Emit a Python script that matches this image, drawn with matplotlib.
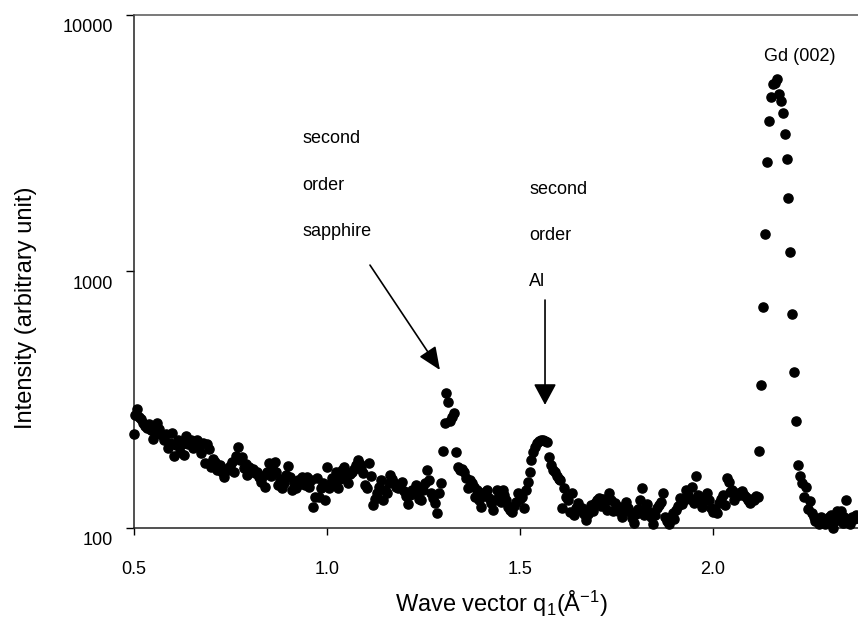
import numpy as np
import matplotlib
matplotlib.use("Agg")
import matplotlib.pyplot as plt
import matplotlib.transforms as mtransforms

plt.rcParams.update({
    "font.family": "Liberation Sans",
    "mathtext.fontset": "custom",
    "mathtext.rm": "Liberation Sans",
    "mathtext.it": "Liberation Sans:italic",
    "mathtext.bf": "Liberation Sans:bold",
})

# scan grid (wave vector q, 1/Angstrom)
Q_START = 0.5
Q_STEP = 0.005

# intensity (arbitrary unit), 10 points per row
INTENSITY_LOW_Q = [  # q = 0.50 .. 0.995
    233, 275, 290, 272, 265, 257, 250, 245, 255, 240,
    222, 235, 257, 243, 233, 230, 220, 232, 205, 215,
    235, 190, 210, 220, 198, 212, 193, 228, 212, 218,
    220, 205, 212, 220, 208, 196, 215, 179, 212, 204,
    173, 185, 181, 168, 172, 176, 165, 158, 170, 168,
    175, 181, 165, 190, 207, 184, 189, 171, 178, 161,
    173, 168, 170, 164, 165, 158, 151, 160, 144, 165,
    179, 160, 168, 181, 165, 147, 155, 143, 150, 161,
    174, 158, 141, 150, 143, 154, 148, 158, 150, 147,
    158, 145, 154, 121, 132, 157, 132, 143, 150, 128,
]
INTENSITY_MID_Q = [  # q = 1.00 .. 1.495 (sapphire peak)
    173, 143, 150, 157, 148, 165, 143, 155, 168, 173,
    160, 150, 162, 165, 170, 176, 184, 178, 170, 164,
    147, 143, 179, 160, 123, 130, 137, 145, 154, 128,
    140, 137, 150, 161, 155, 150, 145, 143, 147, 151,
    139, 133, 124, 135, 141, 138, 147, 134, 130, 128,
    140, 150, 169, 154, 137, 131, 125, 114, 137, 150,
    200, 257, 336, 310, 262, 270, 280, 198, 173, 168,
    170, 165, 157, 143, 154, 150, 144, 132, 140, 128,
    121, 133, 138, 141, 131, 125, 117, 128, 141, 133,
    126, 141, 135, 128, 121, 118, 115, 122, 126, 137,
]
INTENSITY_HIGH_Q = [  # q = 1.50 .. 1.995 (Al peak)
    130, 132, 120, 140, 151, 165, 184, 198, 207, 214,
    218, 220, 221, 218, 216, 189, 176, 168, 165, 160,
    155, 154, 120, 143, 132, 128, 115, 137, 112, 120,
    125, 118, 120, 113, 107, 113, 118, 123, 116, 125,
    128, 131, 122, 130, 126, 118, 137, 128, 116, 125,
    120, 116, 121, 110, 118, 126, 120, 115, 109, 105,
    113, 119, 128, 143, 112, 120, 124, 115, 110, 104,
    112, 120, 123, 126, 137, 110, 106, 104, 110, 114,
    108, 117, 122, 131, 124, 128, 141, 135, 130, 144,
    125, 160, 134, 128, 121, 126, 130, 137, 128, 120,
]
INTENSITY_GD = [  # q = 2.00 .. 2.375 (Gd (002) peak)
    115, 118, 114, 125, 130, 134, 123, 157, 151, 138,
    141, 128, 133, 137, 135, 139, 134, 132, 128, 125,
    130, 128, 133, 132, 200, 361, 730, 1400, 2670, 3870,
    4790, 5380, 5450, 5620, 4900, 4610, 4150, 3440, 2750, 1940,
    1190, 683, 405, 261, 176, 160, 150, 132, 144, 119,
    127, 114, 110, 106, 108, 104, 110, 106, 104, 107,
    110, 112, 100, 106, 116, 110, 116, 105, 110, 128,
    107, 104, 110, 108, 112, 109,
]

X_TICKS = [0.5, 1.0, 1.5, 2.0]
X_TICK_LABELS = ["0.5", "1.0", "1.5", "2.0"]
Y_TICKS = [100, 1000, 10000]
Y_TICK_LABELS = ["100", "1000", "10000"]

SAPPHIRE_LINES = ["second", "order", "sapphire"]
AL_LINES = ["second", "order", "Al"]
GD_LABEL = "Gd (002)"

intensity = np.array(INTENSITY_LOW_Q + INTENSITY_MID_Q + INTENSITY_HIGH_Q + INTENSITY_GD, dtype=float)
q = Q_START + Q_STEP * np.arange(len(intensity))

fig = plt.figure(figsize=(8.58, 6.29), dpi=100)
ax = fig.add_axes([0.1556, 0.1606, 0.8444, 0.8156])

ax.plot(q, intensity, "o", ms=6.6, color="black", clip_on=False, zorder=3)

ax.set_yscale("log")
ax.set_xlim(0.5, 2.375)
ax.set_ylim(100, 10000)
ax.set_xticks(X_TICKS, labels=X_TICK_LABELS)
ax.set_yticks(Y_TICKS, labels=Y_TICK_LABELS)
ax.yaxis.set_minor_locator(matplotlib.ticker.NullLocator())
ax.tick_params(axis="x", direction="out", length=5, width=1, labelsize=13, pad=19)
ax.tick_params(axis="y", direction="out", length=6, width=1, labelsize=13, pad=8.6)

for s in ["left", "bottom"]:
    ax.spines[s].set_color("#222222"); ax.spines[s].set_linewidth(1.1)
ax.spines["top"].set_color("#555555"); ax.spines["top"].set_linewidth(1.1)
ax.spines["right"].set_visible(False)

# y tick labels sit a little below their ticks in the original
off = mtransforms.ScaledTranslation(0, -0.11, fig.dpi_scale_trans)
for lbl in ax.get_yticklabels():
    lbl.set_transform(lbl.get_transform() + off)

ax.set_xlabel("Wave vector q$_1$(Å$^{-1}$)", fontsize=17, va="center")
ax.xaxis.set_label_coords(0.508, -0.148)
ax.set_ylabel("Intensity (arbitrary unit)", fontsize=17, va="center")
ax.yaxis.set_label_coords(-0.149, 0.43)

# annotations
for i, t in enumerate(SAPPHIRE_LINES):
    ax.text(0.2326, 0.760 - i * 0.0915, t, transform=ax.transAxes, fontsize=13, va="center", ha="left")
for i, t in enumerate(AL_LINES):
    ax.text(0.546, 0.659 - i * 0.0895, t, transform=ax.transAxes, fontsize=13, va="center", ha="left")
ax.text(0.920, 0.920, GD_LABEL, transform=ax.transAxes, fontsize=13, va="center", ha="center")

ax.annotate("", xy=(1.293, 413), xytext=(1.112, 1059),
            arrowprops=dict(arrowstyle="-|>,head_length=1.4,head_width=0.6", mutation_scale=10,
                            color="black", lw=1.2, shrinkA=0, shrinkB=0))
ax.annotate("", xy=(1.565, 302), xytext=(1.565, 774),
            arrowprops=dict(arrowstyle="-|>,head_length=1.3,head_width=0.7", mutation_scale=10,
                            color="black", lw=1.2, shrinkA=0, shrinkB=0))

fig.savefig("out.png", dpi=100)
